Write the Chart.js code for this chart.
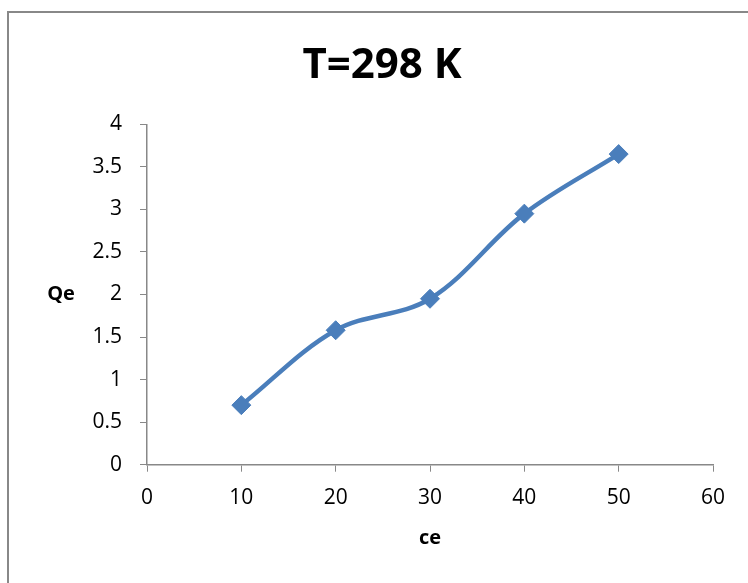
<!DOCTYPE html>
<html>
<head>
<meta charset="utf-8">
<script src="https://cdn.jsdelivr.net/npm/chart.js@4.4.1/dist/chart.umd.min.js"></script>
<style>
  html, body { margin: 0; padding: 0; background: #fff; overflow: hidden; }
  #wrap { position: relative; width: 748px; height: 583px; }
  #frame {
    position: absolute; left: 7px; top: 11px; width: 800px; height: 640px;
    border-top: 2px solid #888; border-left: 2px solid #888;
  }
  canvas { position: absolute; left: 0; top: 0; }
</style>
</head>
<body>
<div id="wrap">
  <div id="frame"></div>
  <canvas id="chart" width="748" height="583"></canvas>
</div>
<script>
const ceValues = [10, 20, 30, 40, 50]
const qeValues = [0.70, 1.58, 1.95, 2.95, 3.65]
const titleText = "T=298 K"
const xTitle = "ce"
const yTitle = "Qe"

const FONT = "'Open Sans', sans-serif"
const AXIS = "#888888"
const BLUE = "#4a7ebb"

// title and axis titles drawn by hand so that "Qe" can stay horizontal
const chartTexts = {
    id: "chartTexts",
    afterDraw(chart) {
        const {ctx, chartArea} = chart
        ctx.save()
        ctx.fillStyle = "#000"
        ctx.textAlign = "center"
        ctx.font = "bold 42px " + FONT
        ctx.textBaseline = "alphabetic"
        ctx.fillText(titleText, 382, 78)
        ctx.font = "bold 20px " + FONT
        ctx.textBaseline = "middle"
        ctx.fillText(yTitle, 61, (chartArea.top + chartArea.bottom) / 2)
        ctx.fillText(xTitle, (chartArea.left + chartArea.right) / 2, 538)
        ctx.restore()
    }
}

new Chart(document.getElementById("chart"), {
    type: "scatter",
    data: {
        datasets: [{
            data: ceValues.map((x, i) => ({x, y: qeValues[i]})),
            showLine: true,
            tension: 0.35,
            borderColor: BLUE,
            borderWidth: 4.5,
            pointStyle: "rectRot",
            pointRadius: 9.5,
            pointHoverRadius: 9.5,
            pointBackgroundColor: BLUE,
            pointBorderColor: BLUE,
            pointBorderWidth: 1,
            clip: false
        }]
    },
    options: {
        responsive: false,
        animation: false,
        layout: { padding: { top: 124.3, right: 35, bottom: 0, left: 0 } },
        plugins: {
            legend: { display: false },
            tooltip: { enabled: false },
            title: { display: false }
        },
        scales: {
            x: {
                type: "linear",
                min: 0,
                max: 60,
                afterFit(scale) { scale.height = 118.3 },
                ticks: { stepSize: 10, color: "#000", font: { family: FONT, size: 21 }, padding: 14, maxRotation: 0 },
                grid: { drawOnChartArea: false, drawTicks: true, tickLength: 7, color: AXIS },
                border: { color: AXIS, width: 1.5 }
            },
            y: {
                min: 0,
                max: 4,
                afterFit(scale) { scale.width = 147 },
                ticks: {
                    stepSize: 0.5, color: "#000", font: { family: FONT, size: 21 }, padding: 18,
                    callback: v => String(v)
                },
                grid: { drawOnChartArea: false, drawTicks: true, tickLength: 7, color: AXIS },
                border: { color: AXIS, width: 1.5 }
            }
        }
    },
    plugins: [chartTexts]
})
</script>
</body>
</html>
